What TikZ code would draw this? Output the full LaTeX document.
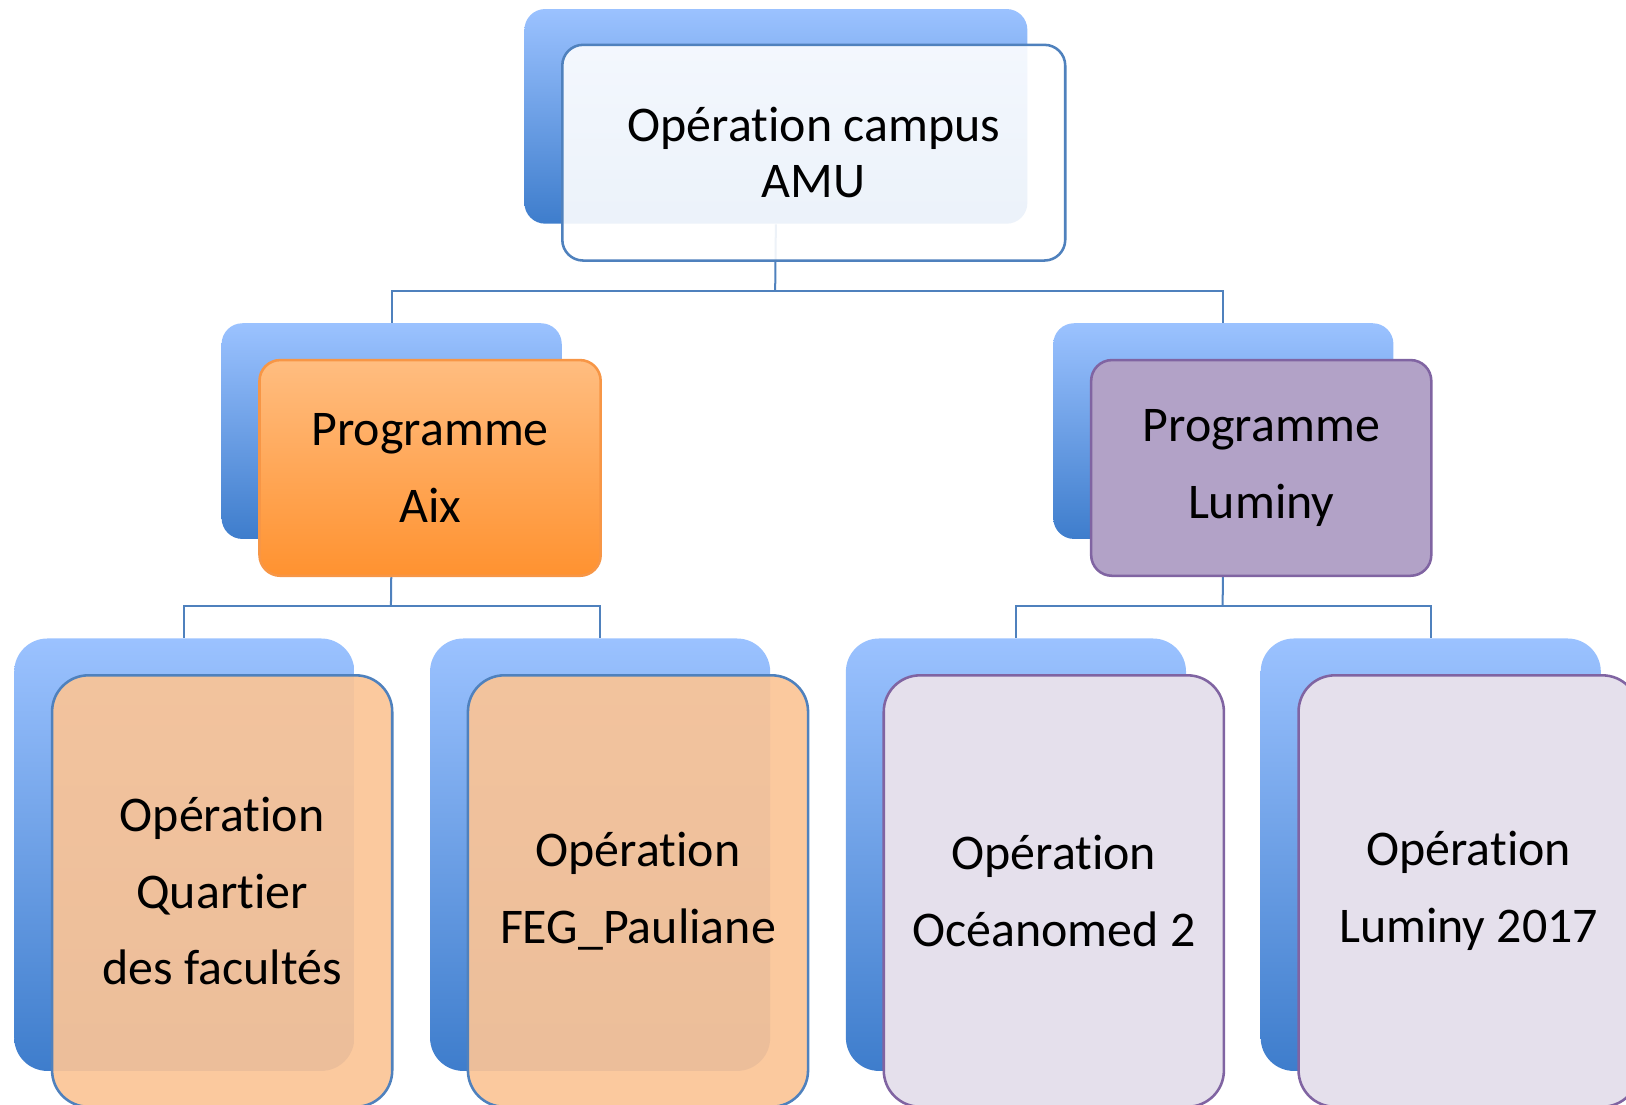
\documentclass[tikz,border=0pt]{standalone}
\usepackage{fontspec}
\setmainfont[RawFeature={-liga;-clig;-calt}]{Carlito}
\usepackage{color}

\definecolor{backtop}{RGB}{155,194,255}
\definecolor{backbot}{RGB}{62,125,204}
\definecolor{linkblue}{RGB}{79,129,189}
\definecolor{aixtop}{RGB}{255,189,128}
\definecolor{aixbot}{RGB}{255,146,48}
\definecolor{aixline}{RGB}{247,150,70}
\definecolor{aixpale}{RGB}{251,196,150}
\definecolor{lumfill}{RGB}{178,162,199}
\definecolor{lumline}{RGB}{128,100,162}
\definecolor{lumpale}{RGB}{229,224,236}

\begin{document}
\begin{tikzpicture}[
  backbox/.style={anchor=north west, inner sep=0pt, rounded corners=#1,
    top color=backtop, bottom color=backbot, draw=none},
  frontbox/.style={anchor=north west, inner sep=0pt, rounded corners=#1,
    line width=0.7pt, align=center, text=black},
  link/.style={draw=linkblue, line width=0.55pt},
  big/.style={font=\fontsize{13.7}{21}\selectfont},
  tight/.style={font=\fontsize{13.7}{15.4}\selectfont}
]
\useasboundingbox (0,0) rectangle (15.68,-10.65);

% back boxes
\node[backbox=2mm, minimum width=4.85cm, minimum height=2.07cm] (campusback) at (5.05,-0.08) {};
\node[backbox=2mm, minimum width=3.28cm, minimum height=2.08cm] (aixback) at (2.13,-3.11) {};
\node[backbox=2mm, minimum width=3.28cm, minimum height=2.08cm] (luminyback) at (10.15,-3.11) {};
\node[backbox=3.2mm, minimum width=3.28cm, minimum height=4.17cm] (quartierback) at (0.13,-6.15) {};
\node[backbox=3.2mm, minimum width=3.28cm, minimum height=4.17cm] (fegback) at (4.14,-6.15) {};
\node[backbox=3.2mm, minimum width=3.28cm, minimum height=4.17cm] (oceanback) at (8.15,-6.15) {};
\node[backbox=3.2mm, minimum width=3.28cm, minimum height=4.17cm] (lum17back) at (12.15,-6.15) {};

% connectors
\coordinate (campusfork) at (7.475,-2.81);
\coordinate (aixfork) at (3.77,-5.84);
\coordinate (luminyfork) at (11.79,-5.84);
\draw[link] (campusback.south) -- (campusfork);
\draw[link] (campusfork) -| (aixback.north);
\draw[link] (campusfork) -| (luminyback.north);
\draw[link] (aixback.south) -- (aixfork);
\draw[link] (aixfork) -| (quartierback.north);
\draw[link] (aixfork) -| (fegback.north);
\draw[link] (luminyback.south) -- (luminyfork);
\draw[link] (luminyfork) -| (oceanback.north);
\draw[link] (luminyfork) -| (lum17back.north);

% front boxes
\node[frontbox=2mm, tight, minimum width=4.85cm, minimum height=2.08cm,
  draw=linkblue, fill=white, fill opacity=0.9, text opacity=1] (campus) at (5.41,-0.42)
  {Opération campus\\AMU};
\node[frontbox=2mm, big, minimum width=3.29cm, minimum height=2.08cm,
  draw=aixline, top color=aixtop, bottom color=aixbot] (aix) at (2.49,-3.46)
  {Programme\\Aix};
\node[frontbox=2mm, big, minimum width=3.28cm, minimum height=2.08cm,
  draw=lumline, fill=lumfill] (luminy) at (10.51,-3.46)
  {Programme\\Luminy};
\node[frontbox=3.5mm, big, minimum width=3.28cm, minimum height=4.16cm,
  draw=linkblue, fill=aixpale, fill opacity=0.92, text opacity=1] (quartier) at (0.49,-6.50)
  {Opération\\Quartier\\des facultés};
\node[frontbox=3.5mm, big, minimum width=3.28cm, minimum height=4.16cm,
  draw=linkblue, fill=aixpale, fill opacity=0.92, text opacity=1] (feg) at (4.50,-6.50)
  {Opération\\FEG\_Pauliane};
\node[frontbox=3.5mm, big, minimum width=3.28cm, minimum height=4.16cm,
  draw=lumline, fill=lumpale] (ocean) at (8.51,-6.50)
  {Opération\\Océanomed 2};
\node[frontbox=3.5mm, big, minimum width=3.28cm, minimum height=4.16cm,
  draw=lumline, fill=lumpale] (lum17) at (12.51,-6.50)
  {Opération\\Luminy 2017};
\end{tikzpicture}
\end{document}
